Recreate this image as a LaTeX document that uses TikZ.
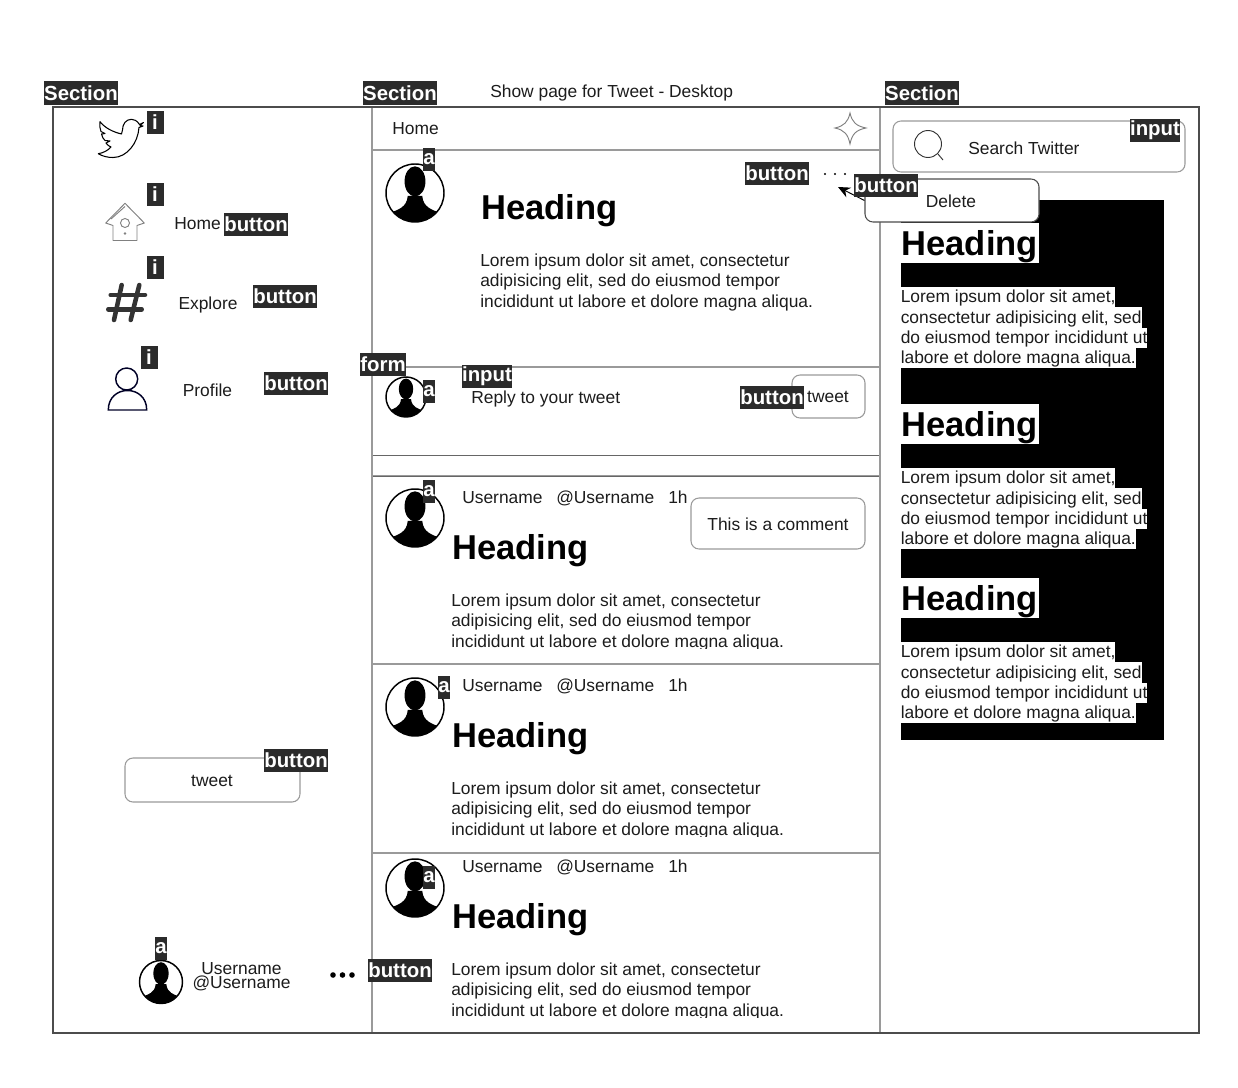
\documentclass[tikz,border=0pt]{standalone}
\usepackage{fontspec}
\setmainfont{Liberation Sans}
\usetikzlibrary{arrows.meta}

\definecolor{tagdark}{HTML}{2B2B2B}
\definecolor{rulegrey}{HTML}{9A9A9A}
\definecolor{textdark}{HTML}{1C1C1C}

\tikzset{
  tag/.style = {fill=tagdark, text=white, inner xsep=0.2pt, inner ysep=0pt,
    minimum height=17.25pt, font=\fontsize{15.3}{17}\selectfont\bfseries},
  itag/.style = {tag, minimum width=12.75pt},
  label/.style = {inner sep=0pt, yshift=-1pt, text=textdark, font=\fontsize{13.05}{15.2}\selectfont},
  lorem/.style = {label, align=left, anchor=west},
  sideline/.style = {inner sep=0pt, anchor=west, fill=white, text=textdark, text height=12pt, text depth=3.2pt,
    font=\fontsize{13.05}{15.2}\selectfont},
  headfont/.style = {inner sep=0pt, anchor=west, font=\fontsize{25.9}{30}\selectfont\bfseries},
  heading/.style = {headfont, yshift=-3pt},
  sidehead/.style = {headfont, fill=white, minimum width=103.5pt, text height=24pt, text depth=6pt},
  roundbox/.style = {draw=rulegrey, rounded corners=6pt, fill=white, line width=0.8pt},
  hline/.style = {rulegrey, line width=0.8pt},
  tinydot/.style = {circle, fill=black, inner sep=0pt, minimum size=1.6pt},
  bigdot/.style = {circle, fill=black, inner sep=0pt, minimum size=4.2pt},
  pics/avatar/.style = {code={
    \begin{scope}
      \clip (0,0) circle (1);
      \fill (0,-.4) ellipse [x radius=.36, y radius=.52];
      \fill (-1.1,1.1) -- (-.85,.68) .. controls (-.6,.58) and (-.28,.5) .. (-.25,.1)
        -- (.25,.1) .. controls (.28,.5) and (.6,.58) .. (.85,.68) -- (1.1,1.1) -- cycle;
    \end{scope}
    \draw[line width=1.1pt] (0,0) circle (1);
  }}
}

\newcommand{\loremtext}{Lorem ipsum dolor sit amet, consectetur\\adipisicing elit, sed do eiusmod tempor\\incididunt ut labore et dolore magna aliqua.}

\begin{document}
\begin{tikzpicture}[x=0.75pt, y=-0.75pt]
  \useasboundingbox (0,0) rectangle (1238,1088);

  % right panel
  \fill (901,200) rectangle (1164,740);
  \foreach \i/\y in {1/0, 2/181, 3/355} {
    \node[sidehead] (sidehead\i) at (900.5,243+\y) {Heading};
    \node[sideline] (sideline\i a) at (900.5,297+\y) {Lorem ipsum dolor sit amet,};
    \node[sideline] (sideline\i b) at (900.5,317.5+\y) {consectetur adipisicing elit, sed};
    \node[sideline] (sideline\i c) at (900.5,338+\y) {do eiusmod tempor incididunt ut};
    \node[sideline] (sideline\i d) at (900.5,358+\y) {labore et dolore magna aliqua.};
  }

  % frame
  \draw[hline] (372,150) -- (880,150);
  \draw[hline] (372,367) -- (880,367);
  \draw[hline] (372,476) -- (880,476);
  \draw[hline] (372,664) -- (880,664);
  \draw[hline] (372,853) -- (880,853);
  \draw[black!60, line width=0.7pt] (372,455) rectangle (880,476);
  \draw[hline] (372,107) -- (372,1033);
  \draw[hline] (880,107) -- (880,1033);
  \draw[black!70, line width=0.8pt] (53,107) rectangle (1199,1033);

  % left column
  \draw[line width=0.8pt, line join=round] (143.5,122.5) -- (139.5,124.5) .. controls (137,120.5) and (134,119.3) .. (131.5,119.3)
    .. controls (126,119.3) and (122.5,124) .. (122.5,130) -- (121.5,134) .. controls (113,132) and (105,128) .. (100,121.7)
    .. controls (99.5,126) and (100,129) .. (101,131.5) -- (105,133.5) -- (101.5,134) .. controls (102,137) and (103.5,139) .. (105,140.5)
    -- (110,141) -- (106,143) .. controls (107,145) and (109,146) .. (111,147) .. controls (108,150.5) and (103,153) .. (98.3,153.7)
    .. controls (103,156.5) and (108,157.5) .. (113,157.5) .. controls (127,157.5) and (138,143) .. (139,127.5) -- (143,126) -- (140,125.5) -- cycle;
  \draw[black!50, line width=0.7pt, line join=round] (105.7,223) -- (125,203.3) -- (144.3,223) -- (137,225.5)
    -- (137,240.5) -- (113,240.5) -- (113,225.5) -- cycle;
  \draw[black!50, line width=0.7pt] (111,219) -- (125,206.5);
  \draw[black!50, line width=0.7pt] (125,223) circle (4.5);
  \fill[black!50] (125,233.5) circle (1.4);
  \draw[black!80, line width=3.4pt, line cap=round] (110.7,295) -- (145,295);
  \draw[black!80, line width=3.4pt, line cap=round] (108.3,309.3) -- (141.7,309.3);
  \draw[black!80, line width=3.4pt, line cap=round] (121.7,285) -- (114,320);
  \draw[black!80, line width=3.4pt, line cap=round] (139.3,285) -- (130.7,320);
  \draw[black!85!blue, line width=1.1pt] (126.7,379) circle (11);
  \draw[black!85!blue, line width=1.1pt] (108.3,410) .. controls (108.3,384) and (146.7,384) .. (146.7,410) -- cycle;

  \node[label] (homelabel) at (197.5,222.5) {Home};
  \node[label] (explorelabel) at (208,303.5) {Explore};
  \node[label] (profilelabel) at (207.5,388.5) {Profile};
  \node[roundbox, minimum width=131.25pt, minimum height=33pt] (tweetbtn) at (212.5,780) {};
  \node[label] (tweetlabel) at (212,779.5) {tweet};

  \pic at (161,982) [scale=21.5] {avatar};
  \node[label, align=center, font=\fontsize{13.05}{10.5}\selectfont] (userblock) at (241.5,975.5) {Username\\@Username};
  \foreach \x in {333,342.5,352} {
    \node[bigdot] (menudot\x) at (\x,975) {};
  }

  % middle column head
  \node[label, anchor=west] (pagetitle) at (490,92) {Show page for Tweet - Desktop};
  \node[label, anchor=west] (hometitle) at (392,127.5) {Home};
  \draw[black!50, line width=0.7pt] (850,113) .. controls (852,122) and (856,126) .. (866,128)
    .. controls (856,130) and (852,134) .. (850,144) .. controls (848,134) and (844,130) .. (835,128)
    .. controls (844,126) and (848,122) .. (850,113) -- cycle;

  % main tweet
  \pic at (415,193) [scale=29] {avatar};
  \node[heading] (mainhead) at (481,207) {Heading};
  \node[lorem] (mainbody) at (480,281) {\loremtext};
  \foreach \x in {825,835,845} {
    \node[tinydot] (topdot\x) at (\x,174) {};
  }

  % reply form
  \pic at (406,397) [scale=20] {avatar};
  \node[label, anchor=west] (replylabel) at (471,397.5) {Reply to your tweet};
  \node[roundbox, minimum width=54.75pt, minimum height=32.25pt] (replybox) at (828.5,396.5) {};
  \node[label] (replytweet) at (828,396) {tweet};

  % replies
  \foreach \i/\y/\v in {1/0/0, 2/188/189, 3/369/370} {
    \pic at (415,518+\v) [scale=29] {avatar};
    \node[label, anchor=base west] (user\i) at (462,502.5+\y) {Username};
    \node[label, anchor=base west] (handle\i) at (556,502.5+\y) {@Username};
    \node[label, anchor=base west] (age\i) at (668,502.5+\y) {1h};
    \node[heading] (replyhead\i) at (452,547+\y) {Heading};
    \begin{scope}
      \clip (440,590+\y) rectangle (870,648.5+\y);
      \node[lorem] (replybody\i) at (451,621+\y) {\loremtext};
    \end{scope}
  }
  \node[roundbox, minimum width=130.5pt, minimum height=38.25pt] (commentbox) at (778,523.5) {};
  \node[label] (commentlabel) at (778,523) {This is a comment};

  % right column
  \node[roundbox, minimum width=219pt, minimum height=38.25pt] (searchbox) at (1039,146.5) {};
  \draw[black!80, line width=0.7pt] (928,144) circle (13.5);
  \draw[black!80, line width=0.7pt] (938,154) -- (943,160);
  \node[label, anchor=west] (searchlabel) at (968,147) {Search Twitter};
  \node[roundbox, draw=black!70, minimum width=130.5pt, minimum height=32.25pt] (delbox) at (952,200.5) {};
  \node[label] (dellabel) at (951,200) {Delete};
  \coordinate (deltarget) at (838,187);
  \draw[-{Stealth[length=9pt,width=8pt]}, line width=0.7pt] (delbox.west) -- (deltarget);

  % element tags
  \node[tag] (sectionleft) at (81,93) {Section};
  \node[tag] (sectionmid) at (400,93) {Section};
  \node[tag] (sectionright) at (922,93) {Section};
  \node[itag] (ibird) at (155,122) {i};
  \node[itag] (ihome) at (155,194) {i};
  \node[itag] (iexplore) at (155,267) {i};
  \node[itag] (iprofile) at (149,357) {i};
  \node[tag] (btnhome) at (256,224) {button};
  \node[tag] (btnexplore) at (285,296) {button};
  \node[tag] (btnprofile) at (296,383) {button};
  \node[tag] (btntweet) at (296,760) {button};
  \node[tag] (btnuser) at (400,970) {button};
  \node[tag] (btnmain) at (777,173) {button};
  \node[tag] (btndelete) at (886,185) {button};
  \node[tag] (btnreply) at (772,397) {button};
  \node[tag] (forminput) at (487,376) {input};
  \node[tag] (searchinput) at (1155,130) {input};
  \node[tag] (replyform) at (383,364) {form};
  \node[tag] (amain) at (429,159) {a};
  \node[tag] (areply) at (429,391) {a};
  \node[tag] (aone) at (429,491) {a};
  \node[tag] (atwo) at (444,687) {a};
  \node[tag] (athree) at (429,877) {a};
  \node[tag] (auser) at (161,948) {a};
\end{tikzpicture}
\end{document}
